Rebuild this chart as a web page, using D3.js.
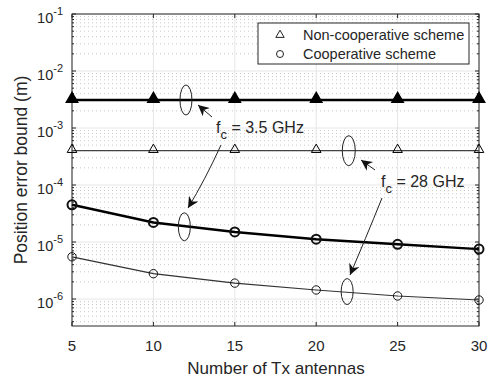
<!DOCTYPE html>
<html>
<head>
<meta charset="utf-8">
<script src="https://cdn.jsdelivr.net/npm/d3@7"></script>
<style>
  body { margin: 0; background: #fff; }
  text { font-family: "Liberation Sans", Arial, sans-serif; fill: #262626; }
</style>
</head>
<body>
<div id="chart"></div>
<script>
var antennas = [5, 10, 15, 20, 25, 30];
var nonCoop35 = [3.1e-3, 3.1e-3, 3.1e-3, 3.1e-3, 3.1e-3, 3.1e-3];
var nonCoop28 = [4.0e-4, 4.0e-4, 4.0e-4, 4.0e-4, 4.0e-4, 4.0e-4];
var coop35 = [4.5e-5, 2.2e-5, 1.5e-5, 1.12e-5, 9.1e-6, 7.5e-6];
var coop28 = [5.5e-6, 2.78e-6, 1.9e-6, 1.44e-6, 1.13e-6, 9.6e-7];
var xTicks = [5, 10, 15, 20, 25, 30];
var yExponents = [-1, -2, -3, -4, -5, -6];

var width = 492,
    height = 378;
var pLeft = 72, pRight = 479, pTop = 14, pBottom = 326;

var x = d3.scaleLinear().domain([5, 30]).range([pLeft, pRight]);
var y = d3.scaleLog().domain([3.36e-7, 1e-1]).range([pBottom, pTop]);

var svg = d3.select('#chart').append('svg')
    .attr('width', width)
    .attr('height', height);

// minor grid (dotted)
var minor = [];
for (var e = -7; e < -1; e++) {
  for (var m = 2; m <= 9; m++) {
    var v = m * Math.pow(10, e);
    if (v > 3.36e-7 && v < 0.1) minor.push(v);
  }
}
svg.append('g').selectAll('line').data(minor)
  .enter().append('line')
    .attr('x1', pLeft).attr('x2', pRight)
    .attr('y1', function(d) { return y(d); })
    .attr('y2', function(d) { return y(d); })
    .style('stroke', '#c8c8c8')
    .style('stroke-width', 1)
    .style('stroke-dasharray', '1,3');

// major grid
var majorY = yExponents.map(function(e) { return Math.pow(10, e); });
svg.append('g').selectAll('line').data(majorY)
  .enter().append('line')
    .attr('x1', pLeft).attr('x2', pRight)
    .attr('y1', function(d) { return y(d); })
    .attr('y2', function(d) { return y(d); })
    .style('stroke', '#e6e6e6')
    .style('stroke-width', 1);
svg.append('g').selectAll('line').data(xTicks)
  .enter().append('line')
    .attr('y1', pTop).attr('y2', pBottom)
    .attr('x1', function(d) { return x(d); })
    .attr('x2', function(d) { return x(d); })
    .style('stroke', '#e6e6e6')
    .style('stroke-width', 1);

// axes box + ticks
var axisColor = '#262626';
svg.append('rect')
  .attr('x', pLeft).attr('y', pTop)
  .attr('width', pRight - pLeft).attr('height', pBottom - pTop)
  .style('fill', 'none').style('stroke', axisColor).style('stroke-width', 1);

var ticks = svg.append('g').style('stroke', axisColor).style('stroke-width', 1);
xTicks.forEach(function(d) {
  ticks.append('line').attr('x1', x(d)).attr('x2', x(d)).attr('y1', pBottom).attr('y2', pBottom - 4);
  ticks.append('line').attr('x1', x(d)).attr('x2', x(d)).attr('y1', pTop).attr('y2', pTop + 4);
});
majorY.forEach(function(d) {
  ticks.append('line').attr('x1', pLeft).attr('x2', pLeft + 4).attr('y1', y(d)).attr('y2', y(d));
  ticks.append('line').attr('x1', pRight).attr('x2', pRight - 4).attr('y1', y(d)).attr('y2', y(d));
});
minor.forEach(function(d) {
  ticks.append('line').attr('x1', pLeft).attr('x2', pLeft + 2).attr('y1', y(d)).attr('y2', y(d));
  ticks.append('line').attr('x1', pRight).attr('x2', pRight - 2).attr('y1', y(d)).attr('y2', y(d));
});

// tick labels
svg.append('g').selectAll('text').data(xTicks)
  .enter().append('text')
    .attr('x', function(d) { return x(d); })
    .attr('y', 351)
    .attr('text-anchor', 'middle')
    .style('font-size', '15px')
    .text(function(d) { return d; });

var yl = svg.append('g').selectAll('text').data(yExponents)
  .enter().append('text')
    .attr('x', 63)
    .attr('y', function(d) { return y(Math.pow(10, d)) + 9; })
    .attr('text-anchor', 'end')
    .style('font-size', '14.5px');
yl.append('tspan').text('10');
yl.append('tspan').attr('dy', -8).style('font-size', '11px').text(function(d) { return '-' + (-d); });

svg.append('text')
  .attr('x', 276).attr('y', 374)
  .attr('text-anchor', 'middle')
  .style('font-size', '17px')
  .text('Number of Tx antennas');
svg.append('text')
  .attr('transform', 'translate(27,170) rotate(-90)')
  .attr('text-anchor', 'middle')
  .style('font-size', '17.5px')
  .text('Position error bound (m)');

// series
var line = d3.line()
  .x(function(d) { return x(d[0]); })
  .y(function(d) { return y(d[1]); });

function series(vals, sw, color) {
  var pts = d3.zip(antennas, vals);
  svg.append('path').datum(pts)
    .attr('d', line)
    .style('fill', 'none')
    .style('stroke', color)
    .style('stroke-width', sw);
  return pts;
}

var tri = d3.symbol().type(d3.symbolTriangle);
function triangles(pts, size, fill, sw) {
  svg.append('g').selectAll('path').data(pts)
    .enter().append('path')
      .attr('d', tri.size(size)())
      .attr('transform', function(d) { return 'translate(' + x(d[0]) + ',' + (y(d[1]) - 1) + ')'; })
      .style('fill', fill)
      .style('stroke', '#000')
      .style('stroke-width', sw);
}
function circles(pts, r, sw) {
  svg.append('g').selectAll('circle').data(pts)
    .enter().append('circle')
      .attr('cx', function(d) { return x(d[0]); })
      .attr('cy', function(d) { return y(d[1]); })
      .attr('r', r)
      .style('fill', 'none')
      .style('stroke', '#111')
      .style('stroke-width', sw);
}

triangles(series(nonCoop28, 1.2, '#444'), 40, 'none', 1);
triangles(series(nonCoop35, 2.5, '#000'), 55, '#000', 1.5);
circles(series(coop28, 1.2, '#333'), 4.2, 1);
circles(series(coop35, 2.5, '#000'), 4.5, 2);

// annotations
var ann = svg.append('g').style('fill', 'none').style('stroke', '#222').style('stroke-width', 1);
function ellipse(xv, yv, rx, ry) {
  ann.append('ellipse').attr('cx', x(xv)).attr('cy', y(yv)).attr('rx', rx).attr('ry', ry);
}
ellipse(12, nonCoop35[0], 6, 15);
ellipse(22, nonCoop28[0], 6.5, 15);
ellipse(11.9, 1.85e-5, 6, 14);
ellipse(21.9, 1.35e-6, 6, 13);

svg.append('defs').append('marker')
  .attr('id', 'ah').attr('viewBox', '0 0 10 10')
  .attr('refX', 10).attr('refY', 5)
  .attr('markerWidth', 13).attr('markerHeight', 11)
  .attr('markerUnits', 'userSpaceOnUse')
  .attr('orient', 'auto')
  .append('path').attr('d', 'M0,0 L10,5 L0,10 L3,5 z').style('fill', '#111');

function arrow(d) {
  ann.append('path').attr('d', d).attr('marker-end', 'url(#ah)');
}
arrow('M212,117 L198,105');
arrow('M221,145 Q205,180 188,208');
arrow('M375,170 L361,160');
arrow('M382,198 Q365,240 350,275');

function fcLabel(px, py, txt) {
  var t = svg.append('text').attr('x', px).attr('y', py).style('font-size', '16px');
  t.append('tspan').text('f');
  t.append('tspan').attr('dy', 6).style('font-size', '13px').text('c');
  t.append('tspan').attr('dy', -6).text(' = ' + txt);
}
fcLabel(216, 133, '3.5 GHz');
fcLabel(381, 187, '28 GHz');

// legend
var lg = svg.append('g');
lg.append('rect').attr('x', 258).attr('y', 23).attr('width', 211).attr('height', 41)
  .style('fill', '#fff').style('stroke', '#262626').style('stroke-width', 1);
lg.append('path').attr('d', tri.size(30)())
  .attr('transform', 'translate(280,35)')
  .style('fill', 'none').style('stroke', '#222').style('stroke-width', 1);
lg.append('circle').attr('cx', 280).attr('cy', 54).attr('r', 3.5)
  .style('fill', 'none').style('stroke', '#222').style('stroke-width', 1);
lg.append('text').attr('x', 303).attr('y', 40).style('font-size', '14.5px').text('Non-cooperative scheme');
lg.append('text').attr('x', 303).attr('y', 59).style('font-size', '14.5px').text('Cooperative scheme');
</script>
</body>
</html>
